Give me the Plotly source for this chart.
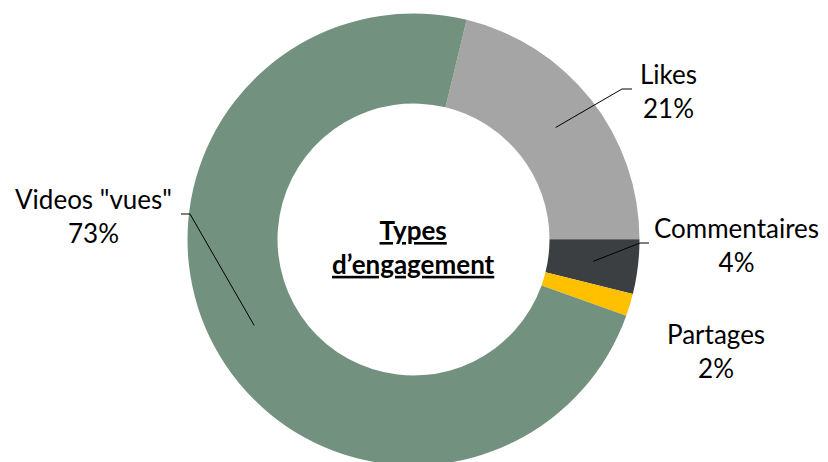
import math
import plotly.graph_objects as go

# ---- data ----
categories = ["Likes", "Commentaires", "Partages", 'Videos "vues"']
values = [21.2, 3.9, 1.6, 73.3]
colors = ["#A5A5A5", "#3B3F42", "#FFC000", "#72917E"]
center_title = ["Types", "d\u2019engagement"]

# page body has an 8px default margin: figure sized to fill the rest of the window
OFF = 8
W, H = 820, 470
FONT = "Lato"

# ---- geometry (screen pixels) ----
cx_s, cy_s = 413.5, 239.5
r_out = 226.0
r_in = 136.0
hole = r_in / r_out
rotation = 13.6


def s2paper(x, y):
    return (x - OFF) / W, 1 - (y - OFF) / H


cxp, cyp = s2paper(cx_s, cy_s)
dom_x = [cxp - 240 / W, cxp + 240 / W]
dom_y = [max(0.0, cyp - r_out / H), min(1.0, cyp + r_out / H)]

fig = go.Figure(go.Pie(
    labels=categories,
    values=values,
    marker=dict(colors=colors, line=dict(width=0)),
    hole=hole,
    sort=False,
    direction="clockwise",
    rotation=rotation,
    textinfo="none",
    hoverinfo="label+percent",
    domain=dict(x=dom_x, y=dom_y),
    showlegend=False,
))

total = sum(values)
pcts = [round(v / total * 100) for v in values]

# label placement (screen pixel centres) and leader-line elbows (None = no line)
label_pos = {
    "Likes": (668, 91),
    "Commentaires": (736, 245),
    "Partages": (716, 351),
    'Videos "vues"': (93, 216),
}
elbows = {
    "Likes": [(622, 89), (632, 89)],
    "Commentaires": [(640, 243), (649, 243)],
    "Partages": None,
    'Videos "vues"': [(190, 214), (181, 214)],
}

annotations = []
shapes = []
cum = 0.0
r_mid = (r_in + r_out) / 2
for cat, v, p in zip(categories, values, pcts):
    a0 = rotation + cum / total * 360
    cum += v
    a1 = rotation + cum / total * 360
    mid = math.radians((a0 + a1) / 2)
    sx = cx_s + r_mid * math.sin(mid)
    sy = cy_s - r_mid * math.cos(mid)
    lx, ly = label_pos[cat]
    X, Y = s2paper(lx, ly)
    annotations.append(dict(
        x=X, y=Y, xref="paper", yref="paper", showarrow=False,
        text=f"{cat}<br>{p}%", align="center",
        xanchor="center", yanchor="middle",
        font=dict(family=FONT, size=26, color="#000000"),
    ))
    if elbows[cat]:
        pts = [(sx, sy)] + elbows[cat]
        path = ""
        for i, (x, y) in enumerate(pts):
            PX, PY = s2paper(x, y)
            path += ("M" if i == 0 else "L") + f"{PX},{PY} "
        shapes.append(dict(type="path", path=path.strip(), xref="paper", yref="paper",
                           line=dict(color="#000000", width=1)))

X, Y = s2paper(cx_s, 247)
annotations.append(dict(
    x=X, y=Y, xref="paper", yref="paper", showarrow=False,
    text="<b><u>" + center_title[0] + "</u></b><br><b><u>" + center_title[1] + "</u></b>",
    align="center", xanchor="center", yanchor="middle",
    font=dict(family=FONT, size=26, color="#000000"),
))

fig.update_layout(
    width=W, height=H, autosize=False,
    margin=dict(l=0, r=0, t=0, b=0),
    paper_bgcolor="#FFFFFF", plot_bgcolor="#FFFFFF",
    annotations=annotations, shapes=shapes,
)

fig.write_html("out.html")
